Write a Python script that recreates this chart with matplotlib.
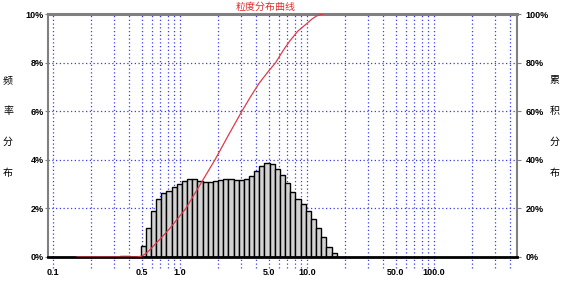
import numpy as np
import matplotlib
matplotlib.use("Agg")
import matplotlib.pyplot as plt

plt.rcParams['font.family'] = ['Noto Sans CJK SC', 'DejaVu Sans']

# ------- DATA ----------
# size-class edges (um)
edges = [0.337, 0.370, 0.406, 0.446, 0.490, 0.538, 0.591, 0.649, 0.713, 0.783,
         0.860, 0.944, 1.037, 1.138, 1.250, 1.372, 1.507, 1.655, 1.817, 1.996,
         2.191, 2.406, 2.642, 2.901, 3.186, 3.498, 3.841, 4.218, 4.632, 5.086,
         5.585, 6.133, 6.734, 7.395, 8.120, 8.917, 9.790, 10.75, 11.81, 12.96,
         14.24, 15.63, 17.17]
# frequency (%) per class
freq = [0.04, 0.06, 0.0, 0.0,
        0.47, 1.18, 1.89, 2.40, 2.62, 2.73, 2.87, 2.99, 3.13, 3.20,
        3.21, 3.14, 3.10, 3.09, 3.11, 3.18, 3.21, 3.20, 3.15, 3.15,
        3.21, 3.35, 3.54, 3.74, 3.85, 3.83, 3.61, 3.36, 3.03, 2.69,
        2.39, 2.17, 1.90, 1.56, 1.21, 0.81, 0.42, 0.15]
# cumulative curve (%)
cum_x = [0.155, 0.46, 0.50, 0.54, 0.581, 0.63, 0.696, 0.76, 0.834, 0.95,
         1.114, 1.45, 1.887, 2.4, 3.076, 3.6, 4.2, 4.9, 5.67, 6.5,
         7.35, 8.5, 9.94, 11.0, 12.0, 13.4]
cum_y = [0.0, 0.0, 0.4, 1.4, 3.0, 5.0, 7.3, 9.5, 11.8, 15.5,
         20.0, 30.0, 40.0, 50.0, 60.0, 66.0, 71.5, 76.0, 80.0, 85.0,
         89.0, 93.0, 96.0, 98.0, 99.3, 100.0]

xticks = [0.1, 0.5, 1.0, 5.0, 10.0, 50.0, 100.0]
xtick_labels = ["0.1", "0.5", "1.0", "5.0", "10.0", "50.0", "100.0"]
left_ticks = [0, 2, 4, 6, 8, 10]
right_ticks = [0, 20, 40, 60, 80, 100]

# ------- FIGURE ----------
fig = plt.figure(figsize=(5.63, 2.83), dpi=100)
ax = fig.add_axes([48/563, 1-257/283, (517-48)/563, (257-14)/283])
ax.set_xscale("log")
ax.set_xlim(0.0914, 451)
ax.set_ylim(0, 10)

grid_col = "#3c3cf0"
for dec in [0.1, 1, 10, 100]:
    for m in range(1, 10):
        v = dec * m
        if v > 400:
            break
        ax.plot([v, v], [-0.45, 10], color=grid_col, lw=0.9,
                linestyle=(0, (1, 2)), clip_on=False, zorder=1)
for h in [2, 4, 6, 8]:
    ax.axhline(h, color=grid_col, lw=0.9, linestyle=(0, (1, 2)), zorder=1)

lefts = np.array(edges[:-1])
widths = np.array(edges[1:]) - lefts
ax.bar(lefts, freq, width=widths, align="edge", color="#d2d2d2",
       edgecolor="black", linewidth=1.0, zorder=3)

ax.set_xticks(xticks)
ax.set_xticklabels(xtick_labels)
ax.xaxis.set_minor_locator(matplotlib.ticker.NullLocator())
ax.tick_params(axis="x", length=0, pad=8)
for lab in ax.get_xticklabels():
    lab.set_fontfamily("Liberation Sans")
    lab.set_fontweight("bold")
    lab.set_fontsize(6.5)

ax.set_yticks(left_ticks)
ax.set_yticklabels([f"{t}%" for t in left_ticks])
ax.tick_params(axis="y", length=2, pad=1, color="#808080")
for lab in ax.get_yticklabels():
    lab.set_fontfamily("Liberation Sans")
    lab.set_fontweight("bold")
    lab.set_fontsize(6.5)
for s in ax.spines.values():
    s.set_visible(False)

ax2 = ax.twinx()
ax2.set_ylim(0, 100)
ax2.plot(cum_x, cum_y, color="#e03a4a", lw=0.9, zorder=4)
ax2.set_yticks(right_ticks)
ax2.set_yticklabels([f"{t}%" for t in right_ticks])
ax2.tick_params(axis="y", length=3, pad=3, color="#808080")
for lab in ax2.get_yticklabels():
    lab.set_fontfamily("Liberation Sans")
    lab.set_fontweight("bold")
    lab.set_fontsize(6.5)
ax2.spines["left"].set_color("#808080")
ax2.spines["left"].set_linewidth(1.5)
ax2.spines["right"].set_color("#808080")
ax2.spines["right"].set_linewidth(1.5)
ax2.spines["top"].set_color("#808080")
ax2.spines["top"].set_linewidth(2.2)
ax2.spines["bottom"].set_color("black")
ax2.spines["bottom"].set_linewidth(2.0)

# title and side labels
fig.text(266/563, 1-7/283, "粒度分布曲线", color="#e03030", fontsize=7.2,
         ha="center", va="center")
for i, ch in enumerate("频率分布"):
    fig.text(8/563, 1-(80+31*i)/283, ch, fontsize=7.2, ha="center", va="center")
for i, ch in enumerate("累积分布"):
    fig.text(555/563, 1-(80+31*i)/283, ch, fontsize=7.2, ha="center", va="center")

fig.savefig("out.png", dpi=100)
